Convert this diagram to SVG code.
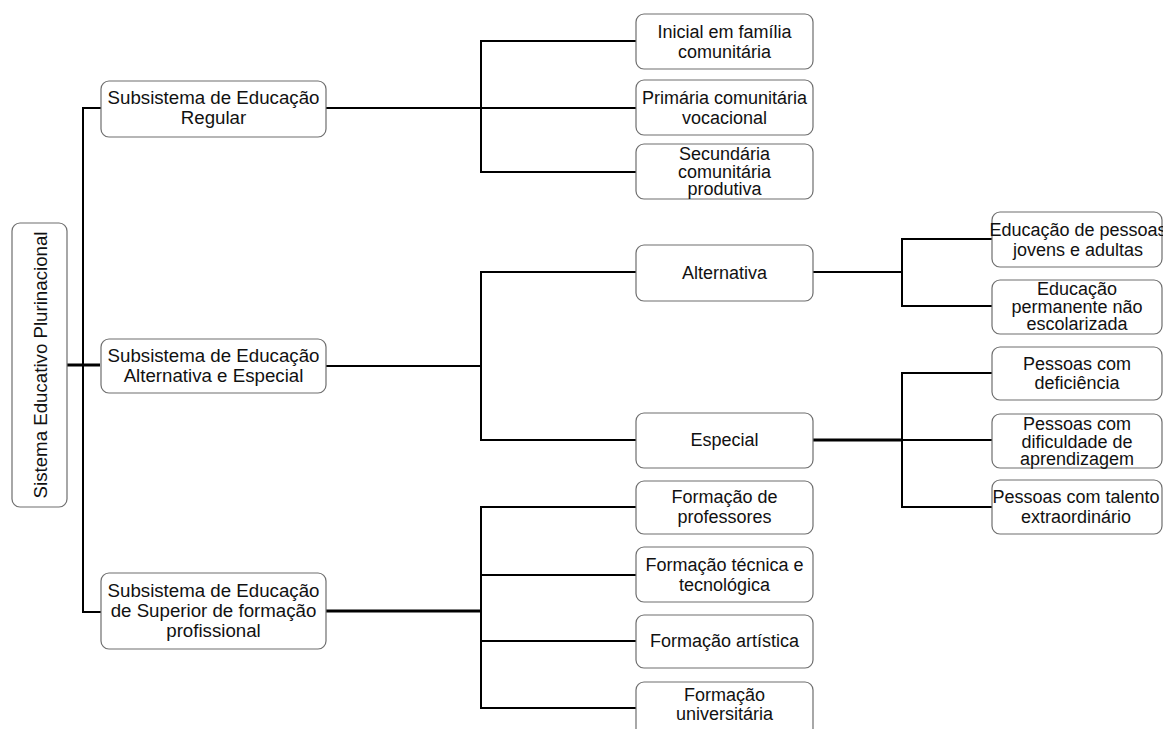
<svg xmlns="http://www.w3.org/2000/svg" width="1163" height="729" viewBox="0 0 1163 729">
  <style>
    .box { fill: #ffffff; stroke: #6e6e6e; stroke-width: 1.2; }
    .lbl { font-family: "Liberation Sans", Arial, sans-serif; font-size: 18px; fill: #111111; text-anchor: middle; }
    .big { font-size: 18.7px; }
    .ln { fill: none; stroke: #000000; stroke-width: 2; }
    .lnb { fill: none; stroke: #000000; stroke-width: 3; }
  </style>
  <rect width="1163" height="729" fill="#ffffff"/>

  <!-- connectors -->
  <g id="connectors">
    <path class="lnb" d="M67,365 H100"/>
    <path class="ln" d="M101,108 H83 V612 H101"/>
    <!-- regular -->
    <path class="ln" d="M326,108 H481 M636,41 H481 V172 H636 M481,108 H636"/>
    <!-- alternativa e especial -->
    <path class="ln" d="M326,366 H481 M636,272 H481 V440 H636"/>
    <path class="ln" d="M813,272 H902 M992,239 H902 V306 H992"/>
    <path class="lnb" d="M813,440 H902"/>
    <path class="ln" d="M992,373 H902 V507 H992 M902,440 H992"/>
    <!-- superior -->
    <path class="lnb" d="M326,611 H481"/>
    <path class="ln" d="M636,507 H481 V708 H636 M481,575 H636 M481,641 H636"/>
  </g>

  <g id="root">
    <rect class="box" x="12" y="223" width="55" height="284" rx="8"/>
    <text class="lbl big" transform="translate(40,365) rotate(-90)" y="6.5">Sistema Educativo Plurinacional</text>
  </g>

  <g id="sub-regular">
    <rect class="box" x="101" y="81" width="225" height="56" rx="8"/>
    <text class="lbl big"><tspan x="213.5" y="104">Subsistema de Educação</tspan><tspan x="213.5" y="124">Regular</tspan></text>
  </g>
  <g id="sub-alternativa-especial">
    <rect class="box" x="101" y="339" width="225" height="54" rx="8"/>
    <text class="lbl big"><tspan x="213.5" y="362">Subsistema de Educação</tspan><tspan x="213.5" y="382">Alternativa e Especial</tspan></text>
  </g>
  <g id="sub-superior">
    <rect class="box" x="101" y="573" width="225" height="76" rx="8"/>
    <text class="lbl big"><tspan x="213.5" y="597">Subsistema de Educação</tspan><tspan x="213.5" y="617">de Superior de formação</tspan><tspan x="213.5" y="637">profissional</tspan></text>
  </g>

  <g id="inicial">
    <rect class="box" x="636" y="14" width="177" height="55" rx="8"/>
    <text class="lbl"><tspan x="724.5" y="37.5">Inicial em família</tspan><tspan x="724.5" y="57.5">comunitária</tspan></text>
  </g>
  <g id="primaria">
    <rect class="box" x="636" y="80" width="177" height="55" rx="8"/>
    <text class="lbl"><tspan x="724.5" y="104">Primária comunitária</tspan><tspan x="724.5" y="124">vocacional</tspan></text>
  </g>
  <g id="secundaria">
    <rect class="box" x="636" y="144" width="177" height="55" rx="8"/>
    <text class="lbl"><tspan x="724.5" y="160">Secundária</tspan><tspan x="724.5" y="177.5">comunitária</tspan><tspan x="724.5" y="195">produtiva</tspan></text>
  </g>

  <g id="alternativa">
    <rect class="box" x="636" y="245" width="177" height="56" rx="8"/>
    <text class="lbl" x="724.5" y="279">Alternativa</text>
  </g>
  <g id="especial">
    <rect class="box" x="636" y="413" width="177" height="55" rx="8"/>
    <text class="lbl" x="724.5" y="446">Especial</text>
  </g>

  <g id="jovens-adultos">
    <rect class="box" x="992" y="212" width="170" height="55" rx="8"/>
    <text class="lbl"><tspan x="1078" y="236">Educação de pessoas</tspan><tspan x="1078" y="256">jovens e adultas</tspan></text>
  </g>
  <g id="permanente">
    <rect class="box" x="992" y="280" width="170" height="54" rx="8"/>
    <text class="lbl"><tspan x="1077" y="295">Educação</tspan><tspan x="1077" y="312.5">permanente não</tspan><tspan x="1077" y="330">escolarizada</tspan></text>
  </g>
  <g id="deficiencia">
    <rect class="box" x="992" y="347" width="170" height="53" rx="8"/>
    <text class="lbl"><tspan x="1077" y="369.5">Pessoas com</tspan><tspan x="1077" y="389">deficiência</tspan></text>
  </g>
  <g id="dificuldade">
    <rect class="box" x="992" y="414" width="170" height="54" rx="8"/>
    <text class="lbl"><tspan x="1077" y="430">Pessoas com</tspan><tspan x="1077" y="447.5">dificuldade de</tspan><tspan x="1077" y="465">aprendizagem</tspan></text>
  </g>
  <g id="talento">
    <rect class="box" x="992" y="480" width="170" height="54" rx="8"/>
    <text class="lbl"><tspan x="1076" y="503">Pessoas com talento</tspan><tspan x="1076" y="523">extraordinário</tspan></text>
  </g>

  <g id="professores">
    <rect class="box" x="636" y="481" width="177" height="53" rx="8"/>
    <text class="lbl"><tspan x="724.5" y="503">Formação de</tspan><tspan x="724.5" y="523">professores</tspan></text>
  </g>
  <g id="tecnica">
    <rect class="box" x="636" y="547" width="177" height="55" rx="8"/>
    <text class="lbl"><tspan x="724.5" y="571">Formação técnica e</tspan><tspan x="724.5" y="591">tecnológica</tspan></text>
  </g>
  <g id="artistica">
    <rect class="box" x="636" y="615" width="177" height="53" rx="8"/>
    <text class="lbl" x="724.5" y="647">Formação artística</text>
  </g>
  <g id="universitaria">
    <rect class="box" x="636" y="682" width="177" height="60" rx="8"/>
    <text class="lbl"><tspan x="724.5" y="701">Formação</tspan><tspan x="724.5" y="720">universitária</tspan></text>
  </g>
</svg>
